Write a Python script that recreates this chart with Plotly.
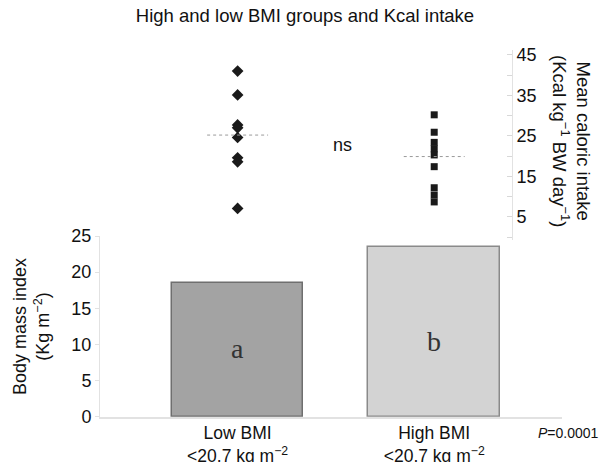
import plotly.graph_objects as go

# ---------------- data ----------------
categories = ["Low BMI", "High BMI"]
category_labels = ["Low BMI<br>&lt;20.7 kg m<sup>−2</sup>", "High BMI<br>&lt;20.7 kg m<sup>−2</sup>"]
bmi_means = [18.5, 23.5]
bar_letters = ["a", "b"]
letter_heights = [9.5, 10.4]

kcal_low = [41.0, 35.1, 27.7, 27.0, 24.6, 19.6, 18.6, 7.1]
kcal_high = [30.2, 25.9, 23.4, 21.8, 20.3, 17.4, 12.2, 10.4, 8.7]
kcal_group_means = [25.2, 19.9]

bmi_ticks = [0, 5, 10, 15, 20, 25]
kcal_ticks = [5, 15, 25, 35, 45]

W, H = 601, 462
def fx(px):
    return px / W
def fy(py):
    return 1 - py / H

fig = go.Figure()

bar_colors = ["#a3a3a3", "#d3d3d3"]
bar_lines = ["#6f6f6f", "#8a8a8a"]
fig.add_trace(go.Bar(
    x=[0, 1], y=bmi_means, width=0.67,
    marker=dict(color=bar_colors, line=dict(color=bar_lines, width=1.5)),
    xaxis="x", yaxis="y", showlegend=False, hoverinfo="skip"))

# scatter points (top panel)
fig.add_trace(go.Scatter(
    x=[0] * len(kcal_low), y=kcal_low, mode="markers",
    marker=dict(symbol="diamond", size=9, color="#1a1a1a"),
    xaxis="x2", yaxis="y2", showlegend=False))
fig.add_trace(go.Scatter(
    x=[1] * len(kcal_high), y=kcal_high, mode="markers",
    marker=dict(symbol="square", size=7, color="#1a1a1a"),
    xaxis="x2", yaxis="y2", showlegend=False))

half = 0.155
for i, m in enumerate(kcal_group_means):
    fig.add_trace(go.Scatter(
        x=[i - half, i + half], y=[m, m], mode="lines",
        line=dict(color="#9a9a9a", width=1, dash="dot"),
        xaxis="x2", yaxis="y2", showlegend=False, hoverinfo="skip"))

xdom = [fx(100), fx(562)]
xrange_ = [-0.70, 1.65]
font_main = "Liberation Sans, Arial, sans-serif"

fig.update_layout(
    template="none",
    width=W, height=H,
    margin=dict(l=0, r=0, t=0, b=0, pad=0),
    paper_bgcolor="white", plot_bgcolor="rgba(0,0,0,0)",
    font=dict(family=font_main, color="#111", size=18),
    title=dict(text="High and low BMI groups and Kcal intake", x=fx(305), xanchor="center",
               y=fy(16), yanchor="middle", font=dict(size=18.5, color="#111")),
    bargap=0,
    xaxis=dict(domain=xdom, range=xrange_, tickvals=[0, 1], ticktext=category_labels,
               showline=True, linecolor="#e2e2e2", linewidth=1.5, ticks="", showgrid=False,
               zeroline=False, anchor="y", automargin=False, tickfont=dict(size=17.5)),
    yaxis=dict(domain=[fy(416.7), fy(236)], range=[0, 25], tickvals=bmi_ticks,
               showline=True, linecolor="#e2e2e2", ticks="outside", ticklen=4,
               tickcolor="#e2e2e2", showgrid=False, zeroline=False, anchor="x",
               automargin=False, tickfont=dict(size=18)),
    xaxis2=dict(domain=xdom, range=xrange_, visible=False, anchor="y2", automargin=False),
    yaxis2=dict(domain=[fy(240), fy(50)], range=[-0.7, 46.2], tickvals=kcal_ticks,
                side="right", anchor="free", position=fx(512),
                showline=True, linecolor="#e2e2e2", ticks="inside", ticklen=5,
                tickcolor="#d8d8d8", showgrid=False, zeroline=False, automargin=False,
                minor=dict(dtick=5, tick0=0, ticks="inside", ticklen=5, tickcolor="#d8d8d8"),
                tickfont=dict(size=18)),
)

annotations = []
for i, (lt, h) in enumerate(zip(bar_letters, letter_heights)):
    annotations.append(dict(x=i, y=h, xref="x", yref="y", text=lt, showarrow=False,
                            xanchor="center", yanchor="middle",
                            font=dict(family="Liberation Serif, Times New Roman, serif",
                                      size=28, color="#333")))
annotations += [
    dict(x=fx(342), y=fy(145), xref="paper", yref="paper", text="ns", showarrow=False,
         xanchor="center", yanchor="middle", font=dict(size=18)),
    dict(x=fx(601), y=fy(433), xref="paper", yref="paper", text="<i>P</i>=0.0001",
         xanchor="right", yanchor="middle", showarrow=False, font=dict(size=14)),
    dict(x=fx(31), y=fy(327), xref="paper", yref="paper",
         text="Body mass index<br>(Kg m<sup>−2</sup>)", showarrow=False, textangle=-90,
         xanchor="center", yanchor="middle", font=dict(size=18)),
    dict(x=fx(572), y=fy(141), xref="paper", yref="paper",
         text="Mean caloric intake<br>(Kcal kg<sup>−1</sup> BW day<sup>−1</sup>)",
         showarrow=False, textangle=90, xanchor="center", yanchor="middle",
         font=dict(size=18.5)),
]
fig.update_layout(annotations=annotations)

fig.write_html("out.html", config={"displayModeBar": False},
               post_script="document.body.style.margin='0';")
